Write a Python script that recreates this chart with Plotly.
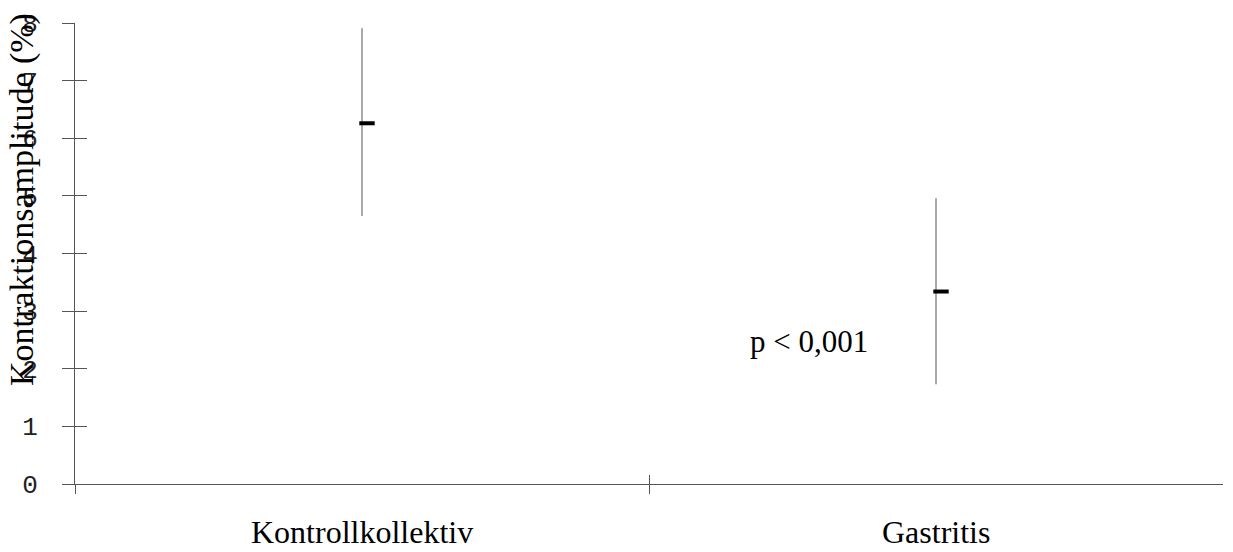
import plotly.graph_objects as go

# data
groups = ['Kontrollkollektiv', 'Gastritis']
means = [6.26, 3.34]
upper = [7.91, 4.96]
lower = [4.65, 1.73]
y_ticks = [0, 1, 2, 3, 4, 5, 6, 7, 8]
p_text = 'p < 0,001'
y_title = 'Kontraktionsamplitude (%)'

W, H = 1233, 552
L, R, T, B = 75, 10, 18, 68
xr = [-0.5, 1.5]
px_per_x = (W - L - R) / (xr[1] - xr[0])
mean_off = 5 / px_per_x  # mean mark sits a bit right of the bar

idx = list(range(len(groups)))
err_up = [u - m for u, m in zip(upper, means)]
err_dn = [m - l for m, l in zip(means, lower)]

line_col = '#555555'
serif = 'Liberation Serif, Times New Roman, serif'
mono = 'Liberation Mono, Courier New, monospace'

fig = go.Figure()
fig.add_trace(go.Scatter(
    x=idx, y=means, mode='markers', marker=dict(size=1, opacity=0),
    error_y=dict(type='data', symmetric=False, array=err_up, arrayminus=err_dn,
                 width=0, thickness=1, color=line_col),
    showlegend=False, hoverinfo='skip'))
fig.add_trace(go.Scatter(
    x=idx, y=means, xaxis='x2', yaxis='y2', mode='markers',
    marker=dict(symbol='line-ew', size=11, line=dict(width=4, color='black')),
    showlegend=False))
# dummy trace so the inner x ticks get drawn
fig.add_trace(go.Scatter(x=[None], y=[None], xaxis='x3', yaxis='y', showlegend=False))

tick_common = dict(tickcolor=line_col, tickwidth=1)
fig.update_layout(
    width=W, height=H, margin=dict(l=L, r=R, t=T, b=B),
    plot_bgcolor='white', paper_bgcolor='white',
    xaxis=dict(range=xr, tickvals=[-0.5, 0.5], ticks='outside', ticklen=9,
               showticklabels=False, showgrid=False, zeroline=False,
               showline=True, linecolor=line_col, linewidth=1, **tick_common),
    xaxis2=dict(range=[xr[0] - mean_off, xr[1] - mean_off], overlaying='x',
                visible=False),
    xaxis3=dict(range=xr, overlaying='x', tickvals=[-0.5, 0.5], ticks='inside',
                ticklen=9, showticklabels=False, showgrid=False, zeroline=False,
                showline=False, **tick_common),
    yaxis=dict(range=[0, 8], tickvals=y_ticks, ticks='outside', ticklen=12,
               showgrid=False, zeroline=False, showline=True, linecolor=line_col,
               linewidth=1, tickfont=dict(family=mono, size=26, color='#222222'),
               ticklabelstandoff=19, **tick_common),
    yaxis2=dict(range=[0, 8], overlaying='y', tickvals=y_ticks, ticks='inside',
                ticklen=12, showticklabels=False, showgrid=False, zeroline=False,
                **tick_common),
)

for i, g in enumerate(groups):
    fig.add_annotation(x=i, y=0, xref='x', yref='paper', text=g, showarrow=False,
                       yanchor='middle', yshift=-48,
                       font=dict(family=serif, size=32, color='black'))

fig.add_annotation(x=0.779, y=2.47, xref='x', yref='y', text=p_text, showarrow=False,
                   font=dict(family=serif, size=31, color='black'))

fig.add_annotation(x=0, y=0.616, xref='paper', yref='paper', text=y_title,
                   textangle=-90, showarrow=False, xanchor='center', yanchor='middle',
                   xshift=-53, font=dict(family=serif, size=34, color='black'))

# page body has a default 8px margin; drop it so the figure fills the window
fig.write_html('out.html', config={'displayModeBar': False},
               post_script="document.body.style.margin='0';")
